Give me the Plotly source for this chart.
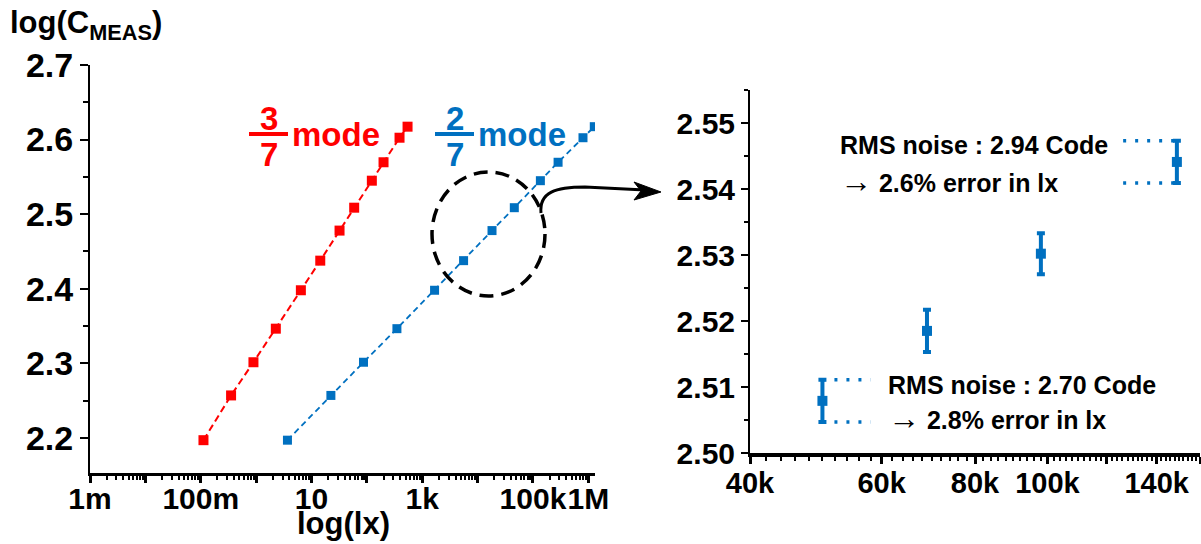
import plotly.graph_objects as go

W, H = 1201, 544

# ---------------- data ----------------
# left panel: log(C_MEAS) vs illuminance (lx), two modes
lx_3_7 = [0.112, 0.353, 0.895, 2.27, 6.43, 14.4, 32.1, 59, 123, 200, 389, 543]
logc_3_7 = [2.197, 2.257, 2.3015, 2.3465, 2.398, 2.4377, 2.478, 2.5087, 2.5449, 2.5696, 2.6025, 2.6173]
lx_2_7 = [3.68, 22.4, 87, 349, 1670, 5580, 18200, 46000, 136000, 284000, 800000, 1280000]
logc_2_7 = [2.197, 2.257, 2.3015, 2.3465, 2.398, 2.4377, 2.478, 2.5087, 2.5449, 2.5696, 2.6025, 2.6173]

left_xticks = [1e-3, 1e-2, 1e-1, 1, 10, 100, 1e3, 1e4, 1e5, 1e6]
left_xticktext = ["1m", " ", "100m", " ", "10", " ", "1k", " ", "100k", "1M"]
left_yticks = [2.2, 2.3, 2.4, 2.5, 2.6, 2.7]

# right panel: zoomed 2/7 mode with RMS noise error bars
zoom_lx = [50000, 69000, 98000, 149000]
zoom_logc = [2.5079, 2.5185, 2.5302, 2.5441]
zoom_err = [0.0032, 0.0032, 0.0031, 0.0032]

right_xticks = [40000, 60000, 80000, 100000, 120000, 140000, 160000]
right_xticktext = ["40k", "60k", "80k", "100k", " ", "140k", " "]

RED = "#FF0000"
BLUE = "#0070C0"
FONT = "Arial, Liberation Sans, sans-serif"


def px(x):
    return x / W


def py(y):
    return 1 - y / H


fig = go.Figure()

fig.add_trace(go.Scatter(
    x=lx_3_7, y=logc_3_7, mode="lines+markers",
    line=dict(color=RED, width=2, dash="7px,4px"),
    marker=dict(symbol="square", size=10, color=RED),
    xaxis="x", yaxis="y", showlegend=False))
fig.add_trace(go.Scatter(
    x=lx_2_7, y=logc_2_7, mode="lines+markers",
    line=dict(color=BLUE, width=1.8, dash="6px,4px"),
    marker=dict(symbol="square", size=9, color=BLUE),
    xaxis="x", yaxis="y", showlegend=False))

fig.add_trace(go.Scatter(
    x=zoom_lx, y=zoom_logc, mode="markers",
    marker=dict(symbol="square", size=10, color=BLUE),
    error_y=dict(type="data", array=zoom_err, visible=True, color=BLUE,
                 thickness=4, width=4),
    xaxis="x2", yaxis="y2", showlegend=False))

# dotted brackets marking the noise span of the first and last points
first_end = zoom_lx[0] * 1.16
last_start = zoom_lx[-1] / 1.18
for (xa, xb, c, e) in [(zoom_lx[0], first_end, zoom_logc[0], zoom_err[0]),
                       (last_start, zoom_lx[-1], zoom_logc[-1], zoom_err[-1])]:
    for yv in (c + e, c - e):
        fig.add_trace(go.Scatter(
            x=[xa, xb], y=[yv, yv], mode="lines",
            line=dict(color=BLUE, width=3.5, dash="3px,9px"),
            xaxis="x2", yaxis="y2", showlegend=False, hoverinfo="skip"))

axis_common = dict(showgrid=False, zeroline=False, showline=True, linecolor="black",
                   ticks="outside", tickcolor="black", automargin=False, tickangle=0,
                   tickfont=dict(family=FONT, size=30, color="black", weight="bold"))

fig.update_layout(
    width=W, height=H,
    margin=dict(l=0, r=0, t=0, b=0, autoexpand=False),
    paper_bgcolor="white", plot_bgcolor="white",
    xaxis=dict(axis_common, type="log", range=[-3, 6.12], domain=[px(90), px(595)],
               anchor="y", tickvals=left_xticks, ticktext=left_xticktext,
               ticklen=7, tickwidth=2.5, linewidth=3, ticklabelstandoff=-10,
               minor=dict(ticks="outside", ticklen=4, tickwidth=2, dtick="D1",
                          tickcolor="black")),
    yaxis=dict(axis_common, range=[2.153, 2.7], domain=[py(473), py(65)],
               anchor="x", tickvals=left_yticks, tickformat=".1f",
               ticklen=8, tickwidth=1.5, linewidth=2,
               tickfont=dict(family=FONT, size=34, color="black", weight="bold"),
               minor=dict(ticks="outside", ticklen=5, tickwidth=1.5, dtick=0.05,
                          tickcolor="black")),
    xaxis2=dict(axis_common, type="log", range=[4.60206, 5.20412], domain=[px(750), px(1200)],
                anchor="y2", tickvals=right_xticks, ticktext=right_xticktext,
                ticklen=7, tickwidth=2.5, linewidth=3.5, ticklabelstandoff=-6,
                tickfont=dict(family=FONT, size=29, color="black", weight="bold"),
                minor=dict(ticks="outside", ticklen=4, tickwidth=2, dtick="L2000",
                           tick0=40000, tickcolor="black")),
    yaxis2=dict(axis_common, range=[2.5, 2.555], domain=[py(453), py(90)],
                anchor="x2", dtick=0.01, tick0=2.5, tickformat=".2f",
                ticklen=7, tickwidth=1.5, linewidth=2,
                tickfont=dict(family=FONT, size=30, color="black", weight="bold"),
                minor=dict(ticks="outside", ticklen=4, tickwidth=1.5, dtick=0.005,
                           tickcolor="black")),
)

annotations = []


def ann(text, x, y, size, color="black", xanchor="center", yanchor="middle"):
    annotations.append(dict(
        text=text, x=px(x), y=py(y), xref="paper", yref="paper",
        xanchor=xanchor, yanchor=yanchor, showarrow=False,
        font=dict(family=FONT, size=size, color=color)))


ann("<b>log(C<sub>MEAS</sub>)</b>", 8, 25, 31, xanchor="left")
ann("<b>log(lx)</b>", 343, 523, 31)

# mode labels with fractions
ann("<b>3</b>", 269, 118, 33, RED)
ann("<b>7</b>", 269, 154, 33, RED)
ann("<b>mode</b>", 290, 134, 33, RED, xanchor="left")
ann("<b>2</b>", 455, 118, 33, BLUE)
ann("<b>7</b>", 455, 154, 33, BLUE)
ann("<b>mode</b>", 476, 134, 33, BLUE, xanchor="left")

# noise annotations
ARROW = '<span style="font-size:32px">→</span>'
ann("<b>RMS noise : 2.94 Code</b>", 838, 145, 25, xanchor="left")
ann(ARROW + " <b>2.6% error in lx</b>", 838, 181, 25, xanchor="left")
ann("<b>RMS noise : 2.70 Code</b>", 886, 385, 25, xanchor="left")
ann(ARROW + " <b>2.8% error in lx</b>", 886, 418, 25, xanchor="left")

fig.update_layout(annotations=annotations)


def path(points, close=False):
    s = "M " + " L ".join(f"{px(x):.5f},{py(y):.5f}" for x, y in points)
    return s + (" Z" if close else "")


shapes = [
    # fraction bars
    dict(type="line", xref="paper", yref="paper", x0=px(249), x1=px(288), y0=py(134), y1=py(134),
         line=dict(color=RED, width=4)),
    dict(type="line", xref="paper", yref="paper", x0=px(435), x1=px(474), y0=py(134), y1=py(134),
         line=dict(color=BLUE, width=4)),
    # dashed circle around zoomed region
    dict(type="circle", xref="paper", yref="paper", x0=px(432), x1=px(545), y0=py(296), y1=py(172),
         line=dict(color="black", width=3.5, dash="14px,8px")),
    # curved arrow body
    dict(type="path", xref="paper", yref="paper",
         path=(f"M {px(541):.5f},{py(213):.5f} "
               f"C {px(539):.5f},{py(192):.5f} {px(556):.5f},{py(187):.5f} {px(585):.5f},{py(187):.5f} "
               f"L {px(645):.5f},{py(190):.5f}"),
         line=dict(color="black", width=3)),
    # arrow head
    dict(type="path", xref="paper", yref="paper",
         path=path([(661, 192), (634, 182), (641, 191), (634, 200)], close=True),
         fillcolor="black", line=dict(color="black", width=1)),
]
fig.update_layout(shapes=shapes)

fig.write_html("out.html", config={"displayModeBar": False},
               post_script="document.body.style.margin='0';document.body.style.overflow='hidden';")
